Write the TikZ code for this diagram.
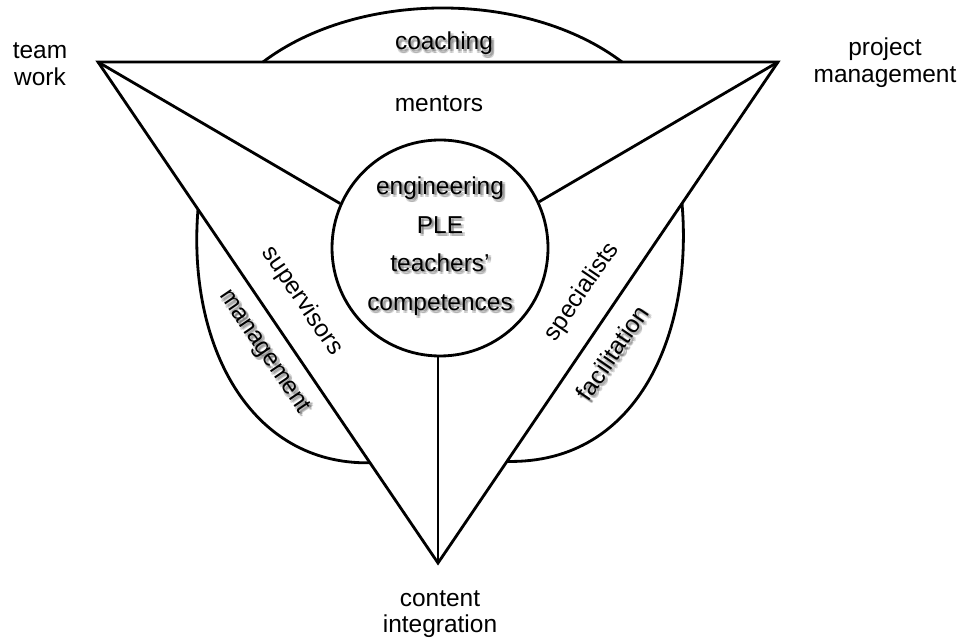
\documentclass[tikz,border=0pt]{standalone}
\usepackage{fontspec}
\setmainfont{Liberation Sans}
\tikzset{
	lbl/.style={font=\fontsize{17.4}{19}\selectfont, inner sep=0pt, align=center},
	shd/.style={lbl, text=black, opacity=.16},
	rim/.style={line width=2pt},
}
% label with a soft drop shadow: [options]{name}{position}{angle}{text}
\newcommand{\shadowtext}[5][]{%
	\node[shd, xshift=1.0pt, yshift=-1.0pt, rotate=#4, #1] (#2-s1) at (#3) {#5};
	\node[shd, xshift=2.2pt, yshift=-2.2pt, rotate=#4, #1] (#2-s2) at (#3) {#5};
	\node[shd, xshift=1.0pt, yshift=-2.2pt, rotate=#4, #1] (#2-s3) at (#3) {#5};
	\node[shd, xshift=2.2pt, yshift=-1.0pt, rotate=#4, #1] (#2-s4) at (#3) {#5};
	\node[lbl, rotate=#4, #1] (#2) at (#3) {#5};
}

\begin{document}
\begin{tikzpicture}[rim]
	\useasboundingbox (0,0) rectangle (24,16.025);
	% corners
	\coordinate (tw) at (2.45,14.475);
	\coordinate (pm) at (19.45,14.475);
	\coordinate (ci) at (10.95,1.95);
	% the three lobes outside the triangle
	\draw (6.575,14.475) .. controls (8.95,16.275) and (13.175,16.275) .. (15.55,14.475);
	\draw (4.95,10.79) .. controls (4.675,7.4) and (6.25,4.4) .. (9.25,4.455);
	\draw (17.05,10.94) .. controls (17.325,7.775) and (16,4.42) .. (12.675,4.49);
	\draw (tw) -- (pm) -- (ci) -- cycle;
	\node[draw, circle, minimum size=5.4cm, inner sep=0pt] (ple) at (11,9.825) {};
	\draw (tw) -- (ple.156);
	\draw (pm) -- (ple.25);
	\draw (ci) -- (ci |- ple.south);
	% texts
	\shadowtext[anchor=base]{coach}{11.1,14.775}{0}{coaching}
	\node[lbl, anchor=base] (ment) at (10.975,13.23) {mentors};
	\shadowtext[font=\fontsize{17.4}{27.4}\selectfont]{core}{11,9.875}{0}{engineering\\PLE\\teachers’\\competences}
	\node[lbl, rotate=-55.8] (sup) at (7.55,8.5) {supervisors};
	\shadowtext{mgmt}{6.6,7.225}{-55.8}{management}
	\node[lbl, rotate=55.8] (spec) at (14.55,8.725) {specialists};
	\shadowtext{fac}{15.3,7.2}{55.8}{facilitation}
	\node[lbl] (team) at (1.0,14.425) {team\\work};
	\node[lbl] (proj) at (22.125,14.46) {project\\management};
	\node[lbl] (cont) at (11,0.675) {content\\integration};
\end{tikzpicture}
\end{document}
